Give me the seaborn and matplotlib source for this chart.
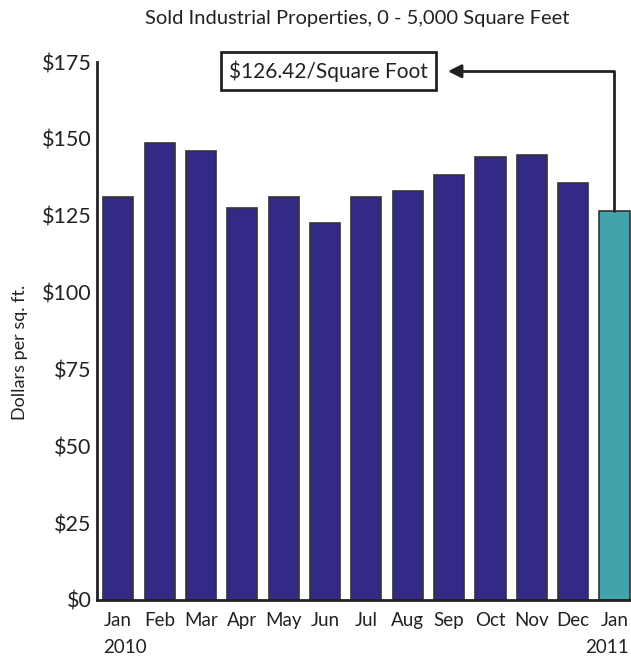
import matplotlib
matplotlib.use("Agg")
import matplotlib.pyplot as plt
import seaborn as sns
import pandas as pd

# data
months = ["Jan", "Feb", "Mar", "Apr", "May", "Jun", "Jul", "Aug", "Sep", "Oct", "Nov", "Dec", "Jan "]
values = [131.0, 148.6, 145.9, 127.5, 131.2, 122.6, 131.0, 132.9, 138.4, 144.2, 144.9, 135.6, 126.42]
groups = ["2010"] * 12 + ["latest"]
yticks = [0, 25, 50, 75, 100, 125, 150, 175]

df = pd.DataFrame({"month": months, "value": values, "group": groups})

sns.set_theme(style="white")
plt.rcParams["font.family"] = ["Lato", "DejaVu Sans"]

fig = plt.figure(figsize=(6.31, 6.6), dpi=100)
ax = fig.add_axes([0.154, 0.091, 0.846, 0.815])

sns.barplot(data=df, x="month", y="value", hue="group",
            palette={"2010": "#332a85", "latest": "#42a3ad"}, saturation=1,
            width=0.73, dodge=False, edgecolor="#333333", linewidth=1.2,
            legend=False, ax=ax)

ax.set_ylim(0, 175)
ax.set_xlim(-0.51, 12.4)
ax.set_yticks(yticks)
ax.set_yticklabels([f"${v}" for v in yticks], fontsize=15.5, color="#222222")
ax.set_xticks(range(len(months)))
ax.set_xticklabels([m.strip() for m in months], fontsize=13.5, color="#222222")
ax.tick_params(axis="y", direction="in", length=11, width=2, color="#222222", pad=4)
ax.tick_params(axis="x", length=0, pad=9)
ax.set_xlabel("")
ax.set_ylabel("Dollars per sq. ft.", fontsize=13, color="#222222")
ax.yaxis.set_label_coords(-0.13, 0.46)

for side in ["top", "right"]:
    ax.spines[side].set_visible(False)
for side in ["left", "bottom"]:
    ax.spines[side].set_color("#222222")
    ax.spines[side].set_linewidth(2)

# year labels under first and last bar
ax.text(-0.37, -0.072, "2010", transform=ax.get_xaxis_transform(),
        ha="left", va="top", fontsize=13.5, color="#222222")
ax.text(12.36, -0.072, "2011", transform=ax.get_xaxis_transform(),
        ha="right", va="top", fontsize=13.5, color="#222222")

fig.suptitle("Sold Industrial Properties, 0 - 5,000 Square Feet",
             x=0.566, y=0.985, fontsize=14.5, color="#222222")

# callout for the latest value
last = len(values) - 1
ax.annotate("", xy=(7.97, 172), xytext=(last, values[-1]),
            arrowprops=dict(arrowstyle="-|>", color="#222222", lw=2,
                            connectionstyle="angle,angleA=90,angleB=0,rad=0",
                            shrinkA=0, shrinkB=0, mutation_scale=20))
ax.text(5.08, 172, f"${values[-1]:.2f}/Square Foot", ha="center", va="center",
        fontsize=15, color="#222222",
        bbox=dict(boxstyle="square,pad=0.4", fc="white", ec="#222222", lw=2))

fig.savefig("out.png", dpi=100)
